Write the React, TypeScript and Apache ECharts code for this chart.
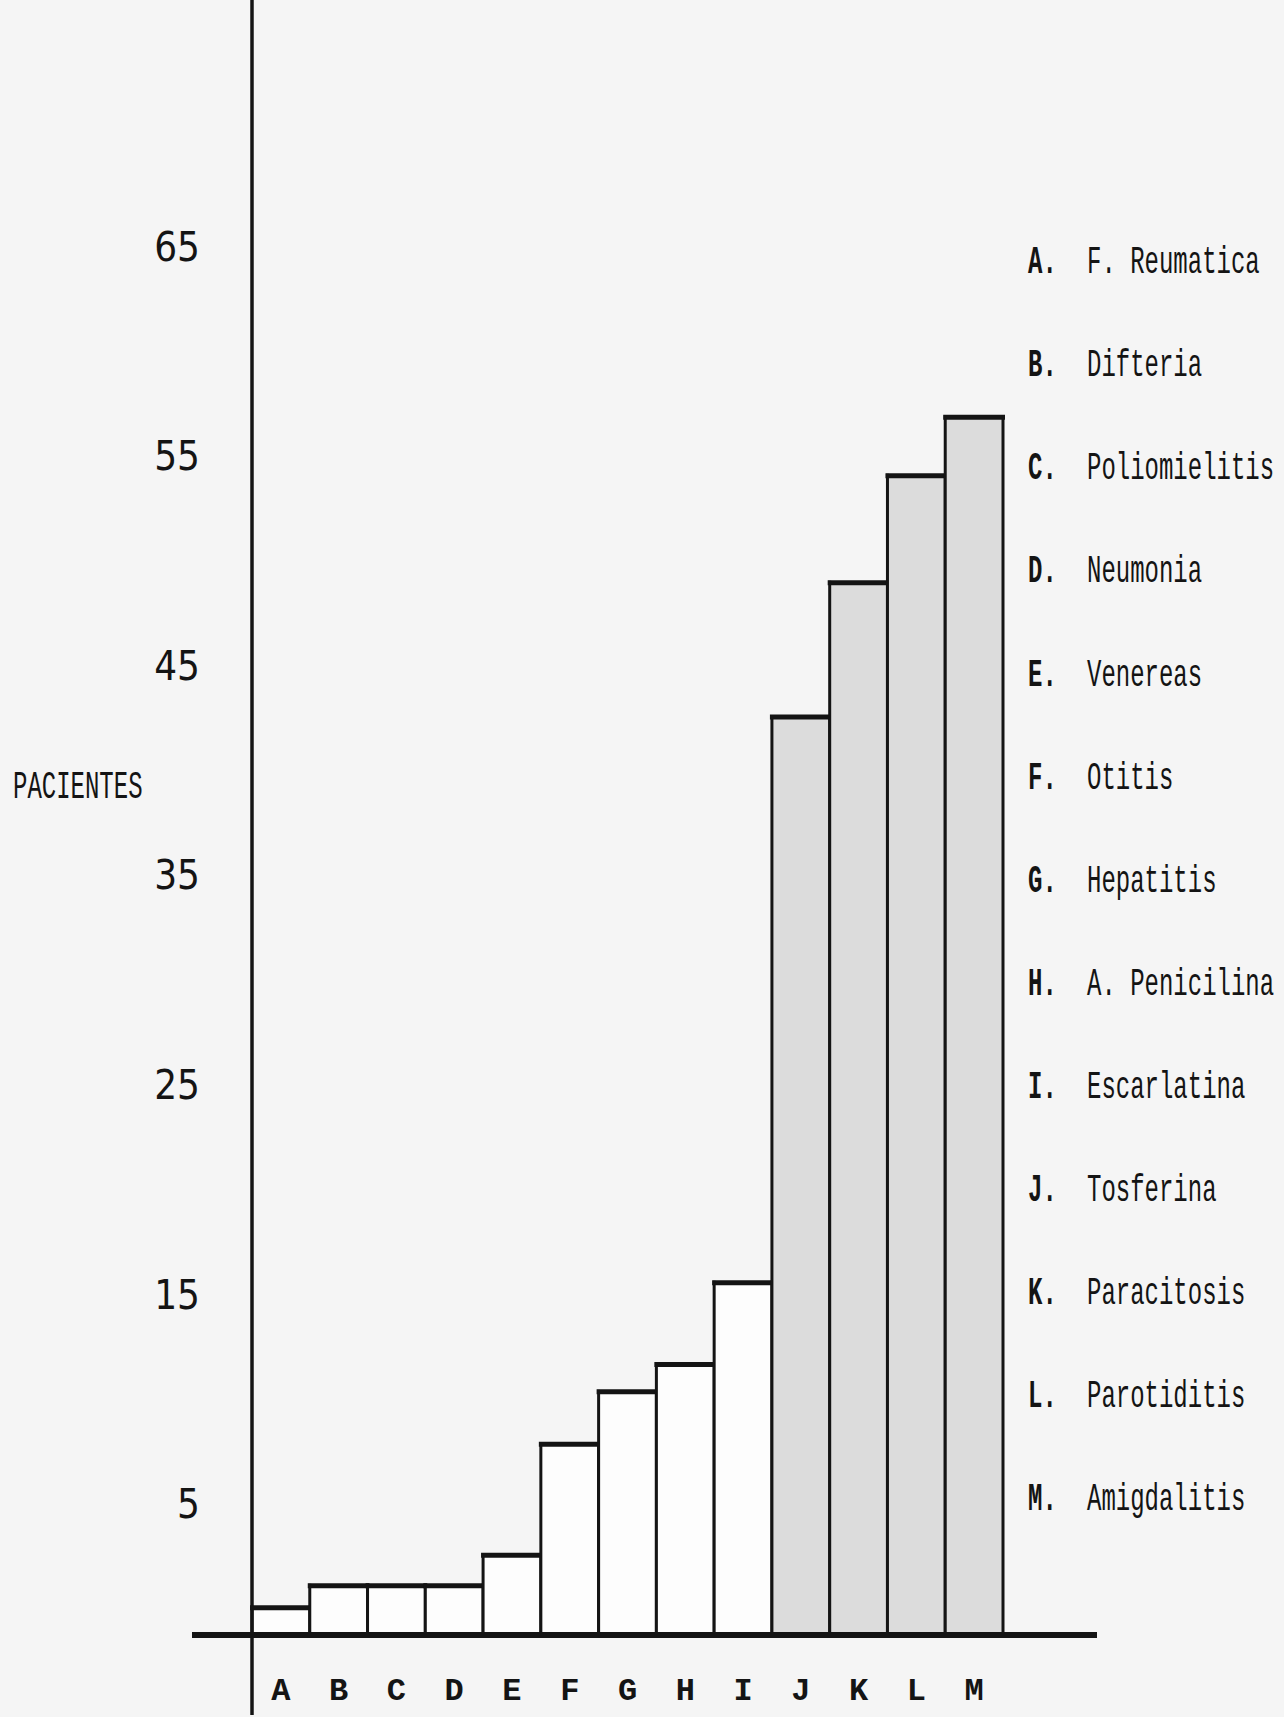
import React, { useEffect, useRef } from 'react';
import * as echarts from 'echarts';

// ---- data ----
const categories = ['A', 'B', 'C', 'D', 'E', 'F', 'G', 'H', 'I', 'J', 'K', 'L', 'M'];
const diseases = [
  'F. Reumatica',
  'Difteria',
  'Poliomielitis',
  'Neumonia',
  'Venereas',
  'Otitis',
  'Hepatitis',
  'A. Penicilina',
  'Escarlatina',
  'Tosferina',
  'Paracitosis',
  'Parotiditis',
  'Amigdalitis',
];
const pacientes = [1.3, 2.35, 2.35, 2.35, 3.8, 9.1, 11.6, 12.9, 16.8, 43.8, 50.2, 55.3, 58.1];
const yTickLabels = [5, 15, 25, 35, 45, 55, 65];
const shadedFrom = 'J';

// ---- layout ----
const W = 1284;
const H = 1717;
const GRID_LEFT = 252;
const GRID_RIGHT = 281;
const GRID_BOTTOM = 82;
const Y_MAX = 78;
const INK = '#141414';
const TYPE_FONT = '"Liberation Mono", "DejaVu Sans Mono", monospace';
const HAND_FONT = '"Liberation Sans Narrow", "DejaVu Sans Condensed", "Liberation Sans", sans-serif';

const LEGEND_X = 1028;
const LEGEND_NAME_X = 1087;
const LEGEND_Y0 = 263;
const LEGEND_STEP = 103.1;
const TEXT_SCALE_Y = 1.6;

function buildOption() {
  const shadedIndex = categories.indexOf(shadedFrom);
  const data = pacientes.map((v, i) => [i, v]);

  const renderItem = (params: any, api: any) => {
    const i = api.value(0);
    const v = api.value(1);
    const tl = api.coord([i, v]);
    const br = api.coord([i + 1, 0]);
    const shaded = params.dataIndex >= shadedIndex;
    return {
      type: 'group',
      children: [
        {
          type: 'rect',
          shape: { x: tl[0], y: tl[1], width: br[0] - tl[0], height: br[1] - tl[1] },
          style: { fill: shaded ? '#dcdcdc' : '#fdfdfd' },
        },
        {
          type: 'line',
          shape: { x1: tl[0], y1: tl[1] - 2, x2: tl[0], y2: br[1] },
          style: { stroke: INK, lineWidth: 3 },
        },
        {
          type: 'line',
          shape: { x1: br[0], y1: tl[1] - 2, x2: br[0], y2: br[1] },
          style: { stroke: INK, lineWidth: 3 },
        },
        {
          type: 'line',
          shape: { x1: tl[0] - 2, y1: tl[1], x2: br[0] + 2, y2: tl[1] },
          style: { stroke: INK, lineWidth: 5 },
        },
      ],
    };
  };

  const legendElements: any[] = [];
  categories.forEach((c, i) => {
    const y = LEGEND_Y0 + i * LEGEND_STEP;
    legendElements.push({
      type: 'text',
      x: LEGEND_X,
      y,
      scaleY: TEXT_SCALE_Y,
      style: {
        text: c + '.',
        fill: INK,
        fontFamily: TYPE_FONT,
        fontSize: 24,
        fontWeight: 'bold',
        align: 'left',
        verticalAlign: 'middle',
      },
    });
    legendElements.push({
      type: 'text',
      x: LEGEND_NAME_X,
      y,
      scaleY: TEXT_SCALE_Y,
      style: {
        text: diseases[i],
        fill: INK,
        fontFamily: TYPE_FONT,
        fontSize: 24,
        align: 'left',
        verticalAlign: 'middle',
      },
    });
  });

  return {
    animation: false,
    backgroundColor: '#f5f5f5',
    grid: {
      left: GRID_LEFT,
      right: GRID_RIGHT,
      top: 0,
      bottom: GRID_BOTTOM,
      containLabel: false,
      outerBoundsMode: 'none',
    },
    xAxis: {
      type: 'value',
      min: 0,
      max: categories.length,
      z: 5,
      axisLine: { show: true, onZero: false, lineStyle: { color: INK, width: 6 } },
      // the vertical axis continues below the base line
      axisTick: {
        show: true,
        customValues: [0],
        length: 80,
        lineStyle: { color: INK, width: 3.5 },
      },
      splitLine: { show: false },
      axisLabel: {
        customValues: categories.map((_, i) => i + 0.5),
        formatter: (v: number) => categories[Math.floor(v)] ?? '',
        margin: 40,
        color: INK,
        fontFamily: TYPE_FONT,
        fontSize: 32,
        fontWeight: 'bold',
      },
    },
    yAxis: [
      {
        type: 'value',
        min: 0,
        max: Y_MAX,
        z: 5,
        axisLine: { show: true, onZero: false, lineStyle: { color: INK, width: 3.5 } },
        // the base line continues to the left of the vertical axis
        axisTick: {
          show: true,
          customValues: [0],
          length: 60,
          lineStyle: { color: INK, width: 6 },
        },
        splitLine: { show: false },
        axisLabel: {
          customValues: yTickLabels,
          formatter: (v: number) => String(v),
          margin: 52,
          color: INK,
          fontFamily: HAND_FONT,
          fontSize: 40,
          verticalAlign: 'bottom',
          padding: [0, 0, 6, 0],
        },
      },
      {
        type: 'value',
        position: 'right',
        min: 0,
        max: Y_MAX,
        z: 5,
        axisLine: { show: true, onZero: false, lineStyle: { color: INK, width: 0, opacity: 0 } },
        // the base line continues to the right of the last bar
        axisTick: {
          show: true,
          customValues: [0],
          length: 94,
          lineStyle: { color: INK, width: 6 },
        },
        splitLine: { show: false },
        axisLabel: { show: false },
      },
    ],
    series: [
      {
        type: 'custom',
        name: 'Pacientes',
        renderItem,
        data,
        encode: { x: 0, y: 1 },
        z: 2,
      },
    ],
    graphic: {
      elements: [
        {
          type: 'text',
          x: 13,
          y: 788,
          scaleY: TEXT_SCALE_Y,
          style: {
            text: 'PACIENTES',
            fill: INK,
            fontFamily: TYPE_FONT,
            fontSize: 24,
            align: 'left',
            verticalAlign: 'middle',
          },
        },
        ...legendElements,
      ],
    },
  };
}

export default function App() {
  const ref = useRef<HTMLDivElement>(null);
  useEffect(() => {
    document.body.style.margin = '0';
    if (!ref.current) return;
    const chart = echarts.init(ref.current, null, { renderer: 'svg' });
    chart.setOption(buildOption() as any);
    return () => chart.dispose();
  }, []);
  return <div ref={ref} style={{ width: W, height: H }} />;
}
